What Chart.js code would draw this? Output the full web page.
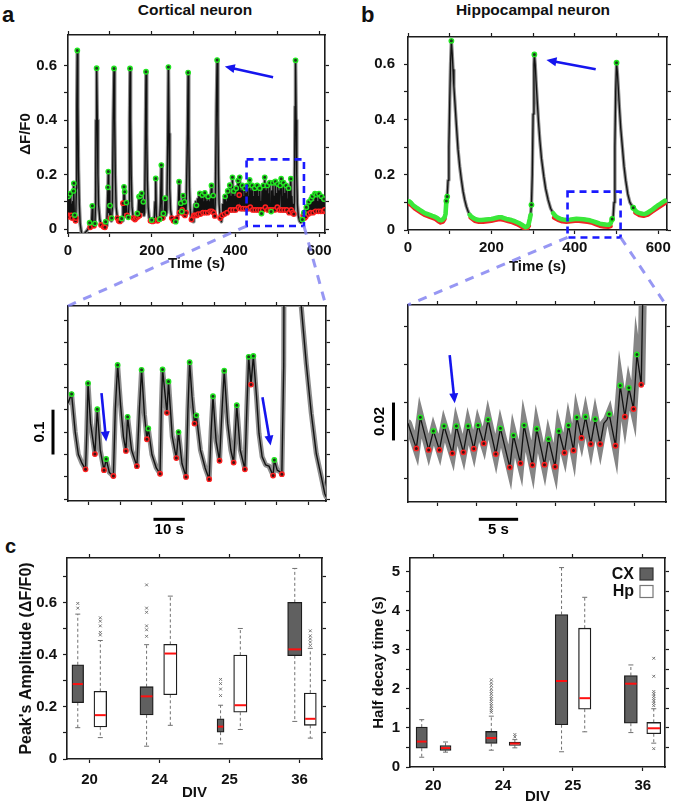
<!DOCTYPE html>
<html>
<head>
<meta charset="utf-8">
<title>Cortical vs hippocampal calcium traces</title>
<script src="https://cdn.jsdelivr.net/npm/chart.js@4.4.1/dist/chart.umd.min.js"></script>
<style>
  html, body { margin: 0; padding: 0; background: #fff; }
  body { position: relative; width: 675px; height: 806px; overflow: hidden; font-family: 'Liberation Sans', Arial, sans-serif; color: #111; }
  .txt { position: absolute; font-weight: bold; white-space: nowrap; }
  canvas { position: absolute; }
  #overlay { left: 0; top: 0; z-index: 5; pointer-events: none; }
</style>
</head>
<body>
<div class="txt" style="left:2px;top:4px;font-size:22px;line-height:22px">a</div>
<div class="txt" style="left:361px;top:4px;font-size:22px;line-height:22px">b</div>
<div class="txt" style="left:5px;top:536px;font-size:20px;line-height:20px">c</div>
<div class="txt" style="left:95px;width:200px;text-align:center;top:2px;font-size:15.5px;line-height:16px">Cortical neuron</div>
<div class="txt" style="left:433px;width:200px;text-align:center;top:2px;font-size:15.5px;line-height:16px">Hippocampal neuron</div>
<canvas id="overlay" width="675" height="806"></canvas>
<script>
// ---------- data: panel a (cortical neuron, time in s, dF/F0) ----------
const cortexTrace = [
  [0,0.07],[1,0.12],[2,0.05],[3,0.1],[4,0.045],[5,0.13],[6,0.06],[7,0.11],[8,0.05],[9,0.09],[10,0.04],[11,0.1],[12,0.05],[13,0.14],[14,0.168],[15,0.06],[16,0.051],[17,0.04],[18,0.03],[19,0.04],[20,0.15],
  [21,0.45],[22.2,0.656],[23.5,0.45],[25,0.22],[27,0.09],[29,0.02],[32,-0.012],[35,-0.022],[38,-0.018],[42,-0.012],[46,-0.004],[50,0.005],[51.7,0.023],[53,0.006],[56,0.01],[58.1,0.085],[59.5,0.015],[62,0.012],[64.4,0.02],
  [66,0.1],[67,0.4],[68.4,0.591],[70,0.4],[71.5,0.2],[73,0.09],[76,0.035],[79,0.015],[82,0.01],[85,0.008],[88.3,0.006],[89.9,0.027],[91,0.012],[93,0.03],[95.5,0.153],[96.3,0.211],[97.3,0.06],[98.5,0.14],[99.5,0.05],[100.3,0.086],[101.5,0.04],[103,0.03],[104.3,0.04],
  [106,0.08],[108,0.4],[109.9,0.59],[111.5,0.4],[113,0.2],[115,0.08],[118,0.04],[121,0.03],[124,0.028],[128.2,0.039],[129.5,0.03],[131.4,0.095],[132.5,0.05],[133.8,0.155],[134.6,0.06],[135.4,0.137],[136.5,0.06],[138,0.09],[139.4,0.097],[141,0.05],[144.2,0.043],
  [146,0.1],[147,0.4],[148.2,0.59],[149.5,0.4],[151,0.2],[153,0.08],[156,0.04],[160,0.035],[163,0.04],[165.8,0.057],[167,0.045],[169.7,0.119],[171,0.05],[173,0.122],[174,0.06],[176,0.131],[177.5,0.06],[180,0.1],[181.5,0.05],[183,0.06],
  [185,0.35],[186.4,0.578],[188,0.35],[189.5,0.18],[191.5,0.08],[194,0.04],[197,0.03],[200,0.033],[202,0.028],[204,0.04],[206,0.03],[208,0.1],[209.6,0.186],[211,0.05],[214,0.03],[217,0.035],[219.1,0.036],[221,0.1],[223,0.235],[224.5,0.06],[226,0.04],[228,0.057],[229.5,0.04],[231.9,0.113],[233.5,0.05],[236,0.06],
  [238.5,0.35],[239.9,0.595],[241.5,0.35],[243,0.15],[245,0.07],[248,0.04],[252,0.03],[257.4,0.027],[260,0.04],[263,0.05],[265.4,0.174],[266.5,0.06],[268,0.07],[269.4,0.095],[270.5,0.06],[271.8,0.064],[273,0.07],[275,0.123],[276.5,0.055],[278,0.1],[279.5,0.05],[282,0.06],
  [285.5,0.35],[287,0.575],[288.5,0.35],[290,0.15],[292,0.07],[295,0.035],[298.9,0.027],
  [300.5,0.05],[302,0.09],[303.5,0.05],[305,0.1],[306.9,0.087],[308,0.05],[309.5,0.11],[311,0.055],[312.5,0.12],[314,0.06],[314.9,0.131],[316.5,0.055],[318,0.11],[319.5,0.06],[321,0.125],[322.5,0.06],[324,0.1],[325.5,0.06],[326.8,0.133],[328,0.06],[329.5,0.11],[331,0.065],[332.5,0.1],[334,0.06],[334.8,0.119],[336.5,0.06],[338,0.1],[339.5,0.065],[341,0.12],[342.8,0.16],[344,0.065],[345.5,0.1],[346.8,0.123],[348,0.06],[349.5,0.07],[350.7,0.048],
  [352,0.1],[354.5,0.45],[356.3,0.621],[358,0.4],[359.5,0.2],[361,0.09],[363.5,0.04],[366.6,0.027],
  [368,0.05],[369.5,0.09],[371,0.05],[372.5,0.11],[374,0.055],[375.5,0.12],[377,0.06],[378.5,0.1],[380,0.06],[381.5,0.14],[383,0.065],[384.5,0.13],[386.5,0.161],[388,0.07],[389.5,0.12],[391,0.065],[392.9,0.19],[394.5,0.07],[396,0.14],[397.5,0.065],[399,0.12],[400.5,0.07],[402,0.15],[403.5,0.07],[404.8,0.13],[406.3,0.178],[407.5,0.08],[409,0.125],[410.3,0.19],[411.8,0.075],[413.5,0.14],[415,0.07],[416.5,0.16],[418,0.075],[419.5,0.12],[421,0.07],[422.5,0.15],[424,0.075],[425.5,0.13],[427,0.07],[428.5,0.16],[430,0.075],[431.5,0.12],[433,0.07],[434,0.18],[435.5,0.08],[437,0.14],[438.5,0.075],[440,0.16],[441.5,0.07],[443,0.12],[444.5,0.075],[446,0.15],[447.5,0.07],[449,0.14],[450.5,0.075],[452,0.16],[453.5,0.07],[455,0.12],[456.5,0.065],[458,0.15],[459.5,0.07],[461,0.1],[462.3,0.057],[463.5,0.14],[465,0.07],[466.5,0.16],[468,0.075],[470,0.19],[471.5,0.08],[473,0.14],[474.5,0.075],[476,0.16],[477.5,0.07],[479,0.13],[480.5,0.075],[482,0.17],[483.5,0.07],[485.3,0.064],[486.5,0.14],[488,0.07],[489.5,0.17],[491,0.075],[492.5,0.12],[494,0.07],[495.5,0.175],[497,0.075],[498.5,0.13],[500,0.08],[501.2,0.165],[502.5,0.075],[504,0.14],[505.5,0.07],[507,0.16],[509.3,0.185],[510.5,0.07],[512,0.12],[513.5,0.065],[515,0.17],[516.5,0.07],[518,0.13],[519.5,0.065],[521,0.16],[522.5,0.07],[524,0.11],[525.5,0.06],[527,0.15],[528.5,0.06],[530,0.13],[532.4,0.185],[533.5,0.07],[535,0.12],[536.5,0.06],[538,0.09],[539.5,0.055],
  [541,0.1],[542.5,0.45],[543.6,0.62],[545,0.4],[546.5,0.2],[548,0.09],[550,0.05],[553,0.03],[556,0.024],[558,0.027],[560,0.035],[562,0.05],[563.5,0.06],[565,0.04],[566.5,0.07],[568,0.045],[569.5,0.08],[571,0.05],[572.5,0.09],[574,0.055],[575.5,0.1],[577,0.06],[578,0.1],[579.5,0.06],[581,0.11],[582.5,0.065],[584,0.12],[585.5,0.06],[587,0.1],[588.5,0.065],[590,0.13],[591.5,0.065],[593.9,0.126],[595,0.07],[596.5,0.1],[598,0.065],[599.5,0.13],[601,0.07],[602.5,0.11],[604,0.065],[605.5,0.12],[607,0.07],[608.5,0.1],[610,0.065],[611.5,0.11],[613,0.07],[614,0.09]
];
const cortexPeaks = [
  [1,0.12],[5,0.13],[13,0.14],[14,0.168],[16,0.051],[22.2,0.656],[51.7,0.023],[58.1,0.085],[64.4,0.02],[68.4,0.591],[89.9,0.027],[95.5,0.153],[96.3,0.211],[100.3,0.086],[104.3,0.04],[109.9,0.59],
  [128.2,0.039],[133.8,0.155],[135.4,0.137],[139.4,0.097],[144.2,0.043],[148.2,0.59],[165.8,0.057],[169.7,0.119],[173,0.122],[176,0.131],[180,0.1],[186.4,0.578],[200,0.033],[209.6,0.186],[219.1,0.036],[223,0.235],[228,0.057],[231.9,0.113],[239.9,0.595],
  [257.4,0.027],[265.4,0.174],[269.4,0.095],[271.8,0.064],[275,0.123],[278,0.1],[287,0.575],[306.9,0.087],[314.9,0.131],[321,0.125],[326.8,0.133],[334.8,0.119],[342.8,0.16],[346.8,0.123],[356.3,0.621],
  [375.5,0.12],[381.5,0.14],[386.5,0.161],[392.9,0.19],[396,0.14],[402,0.15],[406.3,0.178],[410.3,0.19],[416.5,0.16],[422.5,0.15],[428.5,0.16],[434,0.18],[440,0.16],[446,0.15],[452,0.16],[458,0.15],[462.3,0.057],[466.5,0.16],[470,0.19],[476,0.16],[482,0.17],[485.3,0.064],[489.5,0.17],[495.5,0.175],[501.2,0.165],[507,0.16],[509.3,0.185],[515,0.17],[521,0.16],[527,0.15],[532.4,0.185],[543.6,0.62],
  [560,0.035],[563.5,0.06],[569.5,0.08],[575.5,0.1],[581,0.11],[584,0.12],[590,0.13],[593.9,0.126],[599.5,0.13],[605.5,0.12],[611.5,0.11]
];
const cortexTroughs = [
  [2,0.05],[4,0.045],[8,0.05],[10,0.04],[17,0.04],[18,0.03],[19,0.04],[53,0.006],[62,0.012],[79,0.015],[85,0.008],[88.3,0.006],[101.5,0.04],[118,0.04],[121,0.03],[124,0.028],[131.4,0.095],[141,0.05],[156,0.04],[160,0.035],[163,0.04],[167,0.045],[171,0.05],
  [197,0.03],[202,0.028],[206,0.03],[214,0.03],[217,0.035],[226,0.04],[248,0.04],[252,0.03],[260,0.04],[266.5,0.06],[273,0.07],[276.5,0.055],[279.5,0.05],[282,0.06],[295,0.035],
  [300.5,0.05],[303.5,0.05],[308,0.05],[311,0.055],[316.5,0.055],[322.5,0.06],[328,0.06],[334,0.06],[339.5,0.065],[344,0.065],[348,0.06],[350.7,0.048],[363.5,0.04],
  [368,0.05],[374,0.055],[380,0.06],[388,0.07],[394.5,0.07],[400.5,0.07],[407.5,0.08],[409,0.125],[411.8,0.075],[418,0.075],[424,0.075],[430,0.075],[435.5,0.08],[441.5,0.07],[447.5,0.07],[453.5,0.07],[459.5,0.07],[465,0.07],[471.5,0.08],[477.5,0.07],[483.5,0.07],[488,0.07],[494,0.07],[500,0.08],[505.5,0.07],[510.5,0.07],[516.5,0.07],[522.5,0.07],[528.5,0.06],[533.5,0.07],[536.5,0.06],[539.5,0.055],
  [562,0.05],[565,0.04],[568,0.045],[574,0.055],[579.5,0.06],[585.5,0.06],[591.5,0.065],[598,0.065],[604,0.065],[610,0.065],[613,0.07]
];
const cortexZoomBox = [426.6, 563.7, 0.011, 0.256];   // t from, t to, dF/F0 low, high
const cortexArrow = [490, 0.558, 374.6, 0.597];

// ---------- data: panel b (hippocampal neuron) ----------
const hippoTrace = [
  [0,0.104],[4,0.103],[8,0.097],[12,0.09],[16,0.085],[20,0.081],[24,0.077],[28,0.073],[34,0.067],[40,0.061],[46,0.058],[52,0.055],[58,0.051],[64,0.048],[70,0.043],[76,0.036],[80,0.035],[84,0.039],[88,0.047],[90,0.058],[92,0.105],[94,0.121],
  [96,0.18],[98,0.3],[100,0.46],[102,0.6],[104,0.685],[106,0.64],[108,0.58],[110,0.52],[112,0.473],[116,0.38],[120,0.291],[124,0.23],[128,0.182],[132,0.14],[136,0.109],[140,0.085],[144,0.068],[148,0.055],
  [152,0.048],[158,0.042],[164,0.038],[170,0.036],[176,0.036],[182,0.037],[188,0.038],[194,0.039],[200,0.04],[206,0.042],[212,0.044],[218,0.046],[224,0.046],[230,0.043],[236,0.04],[242,0.038],[248,0.036],[254,0.033],[260,0.029],[266,0.025],[272,0.02],[278,0.014],[282,0.01],[286,0.013],[289,0.02],[292,0.04],[294,0.055],[296,0.091],
  [298,0.2],[300,0.42],[302,0.6],[303,0.636],[305,0.6],[307,0.54],[309.6,0.473],[313,0.39],[316,0.327],[320,0.26],[325.6,0.194],[330,0.15],[336,0.109],[342,0.078],[348,0.061],
  [354,0.05],[360,0.044],[366,0.04],[372,0.038],[380,0.036],[388,0.037],[396,0.039],[404,0.041],[412,0.04],[420,0.039],[428,0.037],[436,0.035],[444,0.031],[452,0.027],[460,0.023],[468,0.021],[476,0.019],[482,0.019],[486,0.024],[489.6,0.04],[492,0.05],
  [494,0.1],[496,0.3],[498,0.5],[500,0.606],[502,0.57],[504,0.52],[507,0.44],[510,0.37],[514,0.3],[518,0.23],[522,0.18],[527,0.13],[532,0.1],[537,0.087],[540,0.081],
  [545,0.07],[550,0.064],[556,0.061],[562,0.059],[568,0.058],[574,0.062],[580,0.068],[586,0.074],[592,0.081],[598,0.088],[604,0.094],[610,0.1],[616,0.106]
];
const hippoPeaks = [[104,0.685],[303,0.636],[500,0.606],[92,0.105],[94,0.121],[296,0.091],[540,0.081],[489.6,0.04]];
const hippoBaselineSpans = [[0, 92], [148, 294], [348, 490], [540, 621]];
const hippoTroughBand = [
  [0,0.097],[8,0.09],[16,0.078],[24,0.07],[32,0.062],[40,0.054],[48,0.05],[56,0.045],[64,0.041],[72,0.032],[78,0.027],[84,0.03],[88,0.04], null,
  [150,0.045],[160,0.033],[170,0.029],[180,0.029],[190,0.031],[200,0.033],[210,0.036],[220,0.039],[230,0.036],[240,0.032],[250,0.028],[260,0.022],[270,0.014],[278,0.007],[282,0.003],[286,0.006],[290,0.015], null,
  [350,0.045],[360,0.036],[370,0.031],[380,0.029],[390,0.031],[400,0.033],[410,0.033],[420,0.031],[430,0.029],[440,0.027],[450,0.021],[460,0.015],[470,0.012],[480,0.011],[486,0.014], null,
  [545,0.063],[555,0.054],[565,0.051],[575,0.055],[585,0.066],[595,0.076],[605,0.086],[616,0.097]
];
const hippoZoomBox = [382.5, 509.7, -0.027, 0.139];
const hippoArrow = [450, 0.582, 332, 0.616];

// ---------- data: enlarged stretches (relative time s, dF/F0 offset) ----------
const cortexZoomTrace = [
  [0,0.215],[1.15,0.235],[2.3,0.15],[3.3,0.1],[4.5,0.08],[5.6,0.067],[6.0,0.15],[6.4,0.259],[7.2,0.17],[8.6,0.101],[9.35,0.201],[10.3,0.11],[11.5,0.065],[12.2,0.09],[13.2,0.06],[14.5,0.052],[15.1,0.2],[15.85,0.3],[16.8,0.21],[17.7,0.14],[18.5,0.108],[19.04,0.184],[20.3,0.11],[22.0,0.074],
  [22.8,0.2],[23.5,0.289],[24.4,0.19],[25.2,0.134],[25.65,0.158],[26.8,0.1],[28.2,0.07],[29.4,0.057],[29.8,0.2],[30.2,0.29],[31.6,0.193],[32.1,0.263],[33.3,0.14],[34.6,0.092],[35.3,0.15],[36.4,0.08],[37.7,0.05],[38.3,0.2],[38.85,0.306],[39.6,0.23],[40.4,0.169],[41.0,0.1875],[42.3,0.11],[43.8,0.07],[45.1,0.045],
  [45.7,0.15],[46.3,0.23],[47.3,0.13],[48.4,0.086],[49.2,0.2],[49.9,0.287],[51.0,0.17],[52.0,0.11],[52.9,0.082],[53.9,0.21],[55.0,0.11],[56.5,0.067],[57.1,0.2],[57.7,0.318],[58.45,0.256],[59.2,0.32],[60.2,0.23],[61.0,0.147],[62.0,0.095],[63.1,0.077],[64.2,0.074],[65.5,0.053],[65.9,0.088],[66.8,0.065],[67.6,0.062],[68.3,0.056],
  [68.9,0.3],[69.1,0.75],[74.3,0.75],[74.5,0.43],[76.1,0.303],[77.7,0.192],[79.3,0.102],[80.9,0.05],[82.0,0.013],[82.4,0.006]
];
const cortexZoomPeaks = [[1.15,0.235],[6.4,0.259],[9.35,0.201],[12.2,0.09],[15.85,0.3],[19.04,0.184],[23.5,0.289],[25.65,0.158],[30.2,0.29],[32.1,0.263],[35.3,0.15],[38.85,0.306],[41.0,0.1875],[46.3,0.23],[49.9,0.287],[53.9,0.21],[57.7,0.318],[59.2,0.32],[65.9,0.088]];
const cortexZoomTroughs = [[5.6,0.067],[8.6,0.101],[11.5,0.065],[14.5,0.052],[18.5,0.108],[22.0,0.074],[25.2,0.134],[29.4,0.057],[31.6,0.193],[34.6,0.092],[37.7,0.05],[40.4,0.169],[45.1,0.045],[48.4,0.086],[52.9,0.082],[56.5,0.067],[58.45,0.256],[65.5,0.053],[68.3,0.056]];
const cortexZoomArrows = [[10.7,0.237,12.2,0.129],[62.1,0.228,64.7,0.12]];

const hippoZoomTrace = [
  [0,0.029],[1.06,0.0158],[1.57,0.0322],[2.63,0.015],[3.23,0.025],[3.99,0.015],[4.58,0.0276],[5.64,0.0132],[6.15,0.0276],[7.04,0.0137],[7.64,0.0276],[8.36,0.0156],[8.91,0.028],[9.63,0.0184],[10.18,0.031],[11.16,0.0128],[11.75,0.0264],[12.94,0.0058],[13.41,0.0227],[14.3,0.0079],[14.76,0.028],[15.82,0.007],[16.37,0.0262],[17.35,0.0072],[17.86,0.0207],[18.7,0.0061],
  [19.17,0.025],[19.89,0.0135],[20.4,0.028],[21.04,0.0147],[21.46,0.0322],[22.06,0.0213],[22.57,0.0325],[23.24,0.0181],[23.8,0.0313],[24.43,0.0181],[24.9,0.029],[25.3,0.031],[25.58,0.0339],[26.38,0.0172],[26.98,0.049],[27.57,0.0325],[28.08,0.0478],[28.67,0.0366],[29.1,0.0654],[29.65,0.0494],[29.95,0.12],[30.2,0.2]
];
const hippoZoomPeaks = [[1.57,0.0322],[3.23,0.025],[4.58,0.0276],[6.15,0.0276],[7.64,0.0276],[8.91,0.028],[10.18,0.031],[11.75,0.0264],[13.41,0.0227],[14.76,0.028],[16.37,0.0262],[17.86,0.0207],[19.17,0.025],[20.4,0.028],[21.46,0.0322],[22.57,0.0325],[23.8,0.0313],[25.58,0.0339],[26.98,0.049],[28.08,0.0478],[29.1,0.0654]];
const hippoZoomTroughs = [[1.06,0.0158],[2.63,0.015],[3.99,0.015],[5.64,0.0132],[7.04,0.0137],[8.36,0.0156],[9.63,0.0184],[11.16,0.0128],[12.94,0.0058],[14.3,0.0079],[15.82,0.007],[17.35,0.0072],[18.7,0.0061],[19.89,0.0135],[21.04,0.0147],[22.06,0.0213],[23.24,0.0181],[24.43,0.0181],[26.38,0.0172],[27.57,0.0325],[28.67,0.0366],[29.65,0.0494]];
const hippoZoomArrows = [[5.3,0.065,5.94,0.0396]];

// ---------- ticks ----------
const timeTicks = [0, 100, 200, 300, 400, 500, 600];
const dffTicks = [0, 0.1, 0.2, 0.3, 0.4, 0.5, 0.6];
const cortexZoomTimeTicks = [6.7, 16.7, 26.7, 36.7, 46.7, 56.7, 66.7, 76.7];
const cortexZoomLevelTicks = [0, 0.05, 0.1, 0.15, 0.2, 0.25, 0.3, 0.35, 0.4];
const hippoZoomTimeTicks = [3.75, 8.75, 13.75, 18.75, 23.75, 28.75];
const hippoZoomLevelTicks = [0, 0.02, 0.04, 0.06, 0.08];

// ---------- data: panel c box plots [whisker low, q1, median, q3, whisker high] ----------
const divLabels = ['20', '24', '25', '36'];
const ampCX = [[0.120,0.216,0.287,0.361,0.555],[0.049,0.169,0.240,0.277,0.438],[0.058,0.103,0.124,0.154,0.206],[0.144,0.396,0.420,0.600,0.730]];
const ampHp = [[0.082,0.123,0.168,0.259,0.454],[0.129,0.246,0.404,0.439,0.624],[0.113,0.179,0.206,0.398,0.500],[0.080,0.129,0.154,0.253,0.424]];
const ampCXOut = [[0.596,0.578],[0.667,0.578,0.562,0.51,0.495,0.47],[0.305,0.289,0.268,0.243],[]];
const ampHpOut = [[0.541,0.528,0.51,0.485,0.475],[],[],[0.491,0.472,0.46,0.448,0.435]];
const decayCX = [[0.25,0.48,0.65,1.02,1.21],[0.43,0.60,0.74,0.91,1.30],[0.39,1.08,2.20,3.90,5.10],[0.88,1.12,2.13,2.34,2.61]];
const decayHp = [[0.38,0.426,0.485,0.545,0.64],[0.49,0.55,0.60,0.64,0.70],[0.90,1.48,1.76,3.55,4.34],[0.61,0.85,0.99,1.14,1.49]];
const decayCXOut = [[],[2.23,2.15,2.08,2.0,1.93,1.87,1.8,1.74,1.68,1.62,1.56,1.5,1.45,1.4],[],[]];
const decayHpOut = [[],[0.83,0.77],[],[2.78,2.32,1.93,1.87,1.81,1.75,1.69,1.63,1.57,0.47]];
const ampTicks = [0, 0.1, 0.2, 0.3, 0.4, 0.5, 0.6, 0.7];
const decayTicks = [0, 0.5, 1, 1.5, 2, 2.5, 3, 3.5, 4, 4.5, 5];

// ---------- layout (page px) ----------
const INK = '#1c1c1c';
const FONT = "'Liberation Sans', Arial, Helvetica, sans-serif";
const boxShift = {
  amp: { cx: [-0.169, -0.186, -0.129, -0.069], hp: [0.153, 0.153, 0.153, 0.153] },
  decay: { cx: [-0.166, -0.169, -0.163, -0.17], hp: [0.175, 0.168, 0.169, 0.158] }
};
const boxWidth = {
  amp: { cx: [11.7, 13.3, 7, 14.3], hp: [12.7, 13.3, 13.3, 12] },
  decay: { cx: [11.3, 11.6, 12.7, 13], hp: [11, 11.4, 12.4, 14] }
};

Chart.defaults.font.family = FONT;
Chart.defaults.font.size = 15;
Chart.defaults.font.weight = 'bold';
Chart.defaults.color = '#111';
Chart.defaults.animation = false;

const xy = pts => pts.map(p => p ? { x: p[0], y: p[1] } : { x: NaN, y: null });

function mount(plot, m) {
  const cv = document.createElement('canvas');
  cv.width = plot.r - plot.l + m.l + m.r;
  cv.height = plot.b - plot.t + m.t + m.b;
  cv.style.left = (plot.l - m.l) + 'px';
  cv.style.top = (plot.t - m.t) + 'px';
  cv.style.width = cv.width + 'px';
  cv.style.height = cv.height + 'px';
  document.body.insertBefore(cv, document.getElementById('overlay'));
  return cv;
}

// axis box sizes are pinned so the plot areas land where the figure has them;
// the margins are kept wider than the label overhang Chart.js reserves.
function axis(position, min, max, ticks, size, more) {
  more = more || {};
  const horiz = position === 'top' || position === 'bottom';
  const o = {
    type: 'linear', position, min, max, offset: false,
    border: { display: true, color: INK, width: 1.6 },
    grid: { drawOnChartArea: false, drawTicks: true, tickLength: 4, tickColor: INK, tickWidth: 1.2, offset: false },
    ticks: Object.assign({ display: false, autoSkip: false, maxRotation: 0, minRotation: 0 }, more.ticks || {}),
    title: more.title || { display: false },
    afterBuildTicks: s => { s.ticks = ticks.map(v => ({ value: v })); },
    afterFit: s => { if (horiz) s.height = size; else s.width = size; }
  };
  if (more.stacked !== undefined) o.stacked = more.stacked;
  return o;
}

function build(cv, datasets, scales, plugins) {
  return new Chart(cv, {
    type: 'line',
    data: { datasets },
    options: {
      responsive: false, maintainAspectRatio: false, animation: false, events: [],
      layout: { padding: 0, autoPadding: false },
      plugins: { legend: { display: false }, tooltip: { enabled: false } },
      scales
    },
    plugins: plugins || []
  });
}

function marks(pts, color, core, r) {
  return { data: xy(pts), showLine: false, pointRadius: r, pointBorderWidth: 1.4, pointBorderColor: color, pointBackgroundColor: core, order: 1 };
}
function line(pts, color, w, order) {
  return { data: xy(pts), borderColor: color, borderWidth: w, pointRadius: 0, borderJoinStyle: 'round', borderCapStyle: 'round', tension: 0, order };
}

function decor(draw) {
  return { id: 'decor', afterDatasetsDraw(chart) {
    const c = chart.ctx; c.save(); draw(c, chart.scales.x, chart.scales.y, chart.chartArea); c.restore();
  } };
}
function arrow(c, sx, sy, a) {
  const x0 = sx.getPixelForValue(a[0]), y0 = sy.getPixelForValue(a[1]);
  const x1 = sx.getPixelForValue(a[2]), y1 = sy.getPixelForValue(a[3]);
  const ang = Math.atan2(y1 - y0, x1 - x0), L = 10, W = 4.5;
  const bx = x1 - L * Math.cos(ang), by = y1 - L * Math.sin(ang);
  c.strokeStyle = c.fillStyle = '#1515ee'; c.lineWidth = 2.6; c.setLineDash([]);
  c.beginPath(); c.moveTo(x0, y0); c.lineTo(bx + 2 * Math.cos(ang), by + 2 * Math.sin(ang)); c.stroke();
  c.beginPath(); c.moveTo(x1, y1);
  c.lineTo(bx + W * Math.sin(ang), by - W * Math.cos(ang));
  c.lineTo(bx - W * Math.sin(ang), by + W * Math.cos(ang));
  c.closePath(); c.fill();
}
function zoomRect(c, sx, sy, b) {
  c.strokeStyle = '#1a1aff'; c.lineWidth = 2.6; c.setLineDash([7, 5]);
  const x0 = sx.getPixelForValue(b[0]), x1 = sx.getPixelForValue(b[1]);
  const y0 = sy.getPixelForValue(b[3]), y1 = sy.getPixelForValue(b[2]);
  c.strokeRect(x0, y0, x1 - x0, y1 - y0);
}
function scaleBars(c, sx, sy, area, bar) {
  c.fillStyle = '#000';
  const y0 = sy.getPixelForValue(bar.v[1]), y1 = sy.getPixelForValue(bar.v[0]);
  c.fillRect(area.left - bar.dx - 1.5, y0, 3, y1 - y0);
  const x0 = sx.getPixelForValue(bar.t[0]), x1 = sx.getPixelForValue(bar.t[1]);
  c.fillRect(x0, area.bottom + bar.dy - 1.5, x1 - x0, 3);
  c.font = 'bold 15px ' + FONT;
  c.textAlign = 'center'; c.textBaseline = 'middle';
  c.fillText(bar.tText, (x0 + x1) / 2, area.bottom + bar.dy + 11);
  c.translate(area.left - bar.lx, (y0 + y1) / 2); c.rotate(-Math.PI / 2);
  c.fillText(bar.vText, 0, 0);
}

const dffLabel = v => (Math.round(v * 10) % 2 ? '' : (v === 0 ? '0' : v.toFixed(1)));
const timeLabel = v => (v % 200 ? '' : String(v));
const GREEN = '#22e622', GREEN_CORE = '#1b3a1b', RED = '#ff2020', RED_CORE = '#3f1212';

// ---------- panel a ----------
const plotA = { l: 68, t: 35, r: 325, b: 233 };
const mA = { l: 66, t: 20, r: 16, b: 41 };
const cvA = mount(plotA, mA);
const chartA = build(cvA, [
  marks(cortexPeaks, GREEN, GREEN_CORE, 2.2),
  marks(cortexTroughs, RED, RED_CORE, 2.2),
  line(cortexTrace, '#111', 1.4, 3),
  line(cortexTrace, '#8c8c8c', 3.6, 4)
], {
  x: axis('bottom', 0, 614, timeTicks, mA.b, { ticks: { display: true, padding: 5, callback: timeLabel },
    title: { display: true, text: 'Time (s)', padding: { top: 0, bottom: 1 } } }),
  x2: axis('top', 0, 614, timeTicks, mA.t),
  y: axis('left', -0.0147, 0.713, dffTicks, mA.l, { ticks: { display: true, padding: 7, callback: dffLabel },
    title: { display: true, text: 'ΔF/F0', padding: { top: 15, bottom: 0 } } }),
  y2: axis('right', -0.0147, 0.713, dffTicks, mA.r)
}, [decor((c, sx, sy) => { zoomRect(c, sx, sy, cortexZoomBox); arrow(c, sx, sy, cortexArrow); })]);

// ---------- panel b ----------
const hippoBand = [];
hippoBaselineSpans.forEach(s => {
  hippoTrace.forEach(p => { if (p[0] >= s[0] && p[0] <= s[1]) hippoBand.push(p); });
  hippoBand.push(null);
});
const plotB = { l: 408, t: 37, r: 667, b: 230 };
const mB = { l: 50, t: 22, r: 14, b: 46 };
const cvB = mount(plotB, mB);
const chartB = build(cvB, [
  marks(hippoPeaks, GREEN, GREEN_CORE, 2.2),
  line(hippoBand, '#3ae83a', 4.6, 2),
  line(hippoTroughBand, '#f02424', 4.2, 2.5),
  line(hippoTrace, '#111', 1.3, 3),
  line(hippoTrace, '#8c8c8c', 3.4, 4)
], {
  x: axis('bottom', 0, 621, timeTicks, mB.b, { ticks: { display: true, padding: 5, callback: timeLabel },
    title: { display: true, text: 'Time (s)', padding: { top: 0, bottom: 0 } } }),
  x2: axis('top', 0, 621, timeTicks, mB.t),
  y: axis('left', 0, 0.699, dffTicks, mB.l, { ticks: { display: true, padding: 9, callback: dffLabel } }),
  y2: axis('right', 0, 0.699, dffTicks, mB.r)
}, [decor((c, sx, sy) => { zoomRect(c, sx, sy, hippoZoomBox); arrow(c, sx, sy, hippoArrow); })]);

// ---------- enlarged cortical stretch ----------
const plotAz = { l: 68, t: 306, r: 326, b: 501 };
const mAz = { l: 45, t: 10, r: 10, b: 42 };
const cvAz = mount(plotAz, mAz);
const chartAz = build(cvAz, [
  marks(cortexZoomPeaks, GREEN, GREEN_CORE, 2.2),
  marks(cortexZoomTroughs, RED, RED_CORE, 2.2),
  line(cortexZoomTrace, '#111', 1.4, 3),
  line(cortexZoomTrace, '#8e8e8e', 5, 4)
], {
  x: axis('bottom', 0, 82.4, cortexZoomTimeTicks, mAz.b),
  x2: axis('top', 0, 82.4, cortexZoomTimeTicks, mAz.t),
  y: axis('left', -0.0038, 0.4315, cortexZoomLevelTicks, mAz.l),
  y2: axis('right', -0.0038, 0.4315, cortexZoomLevelTicks, mAz.r)
}, [decor((c, sx, sy, area) => {
  cortexZoomArrows.forEach(a => arrow(c, sx, sy, a));
  scaleBars(c, sx, sy, area, { t: [27.3, 37.3], v: [0.1, 0.2], dx: 15, dy: 18.3, lx: 28, tText: '10 s', vText: '0.1' });
})]);

// ---------- enlarged hippocampal stretch ----------
const plotBz = { l: 408, t: 305, r: 666, b: 502 };
const mBz = { l: 45, t: 10, r: 9, b: 42 };
const cvBz = mount(plotBz, mBz);
const chartBz = build(cvBz, [
  marks(hippoZoomPeaks, GREEN, GREEN_CORE, 2.2),
  marks(hippoZoomTroughs, RED, RED_CORE, 2.2),
  line(hippoZoomTrace, '#111', 1.3, 3),
  { ...line(hippoZoomTrace, '#858585', 8, 4), borderJoinStyle: 'miter' }
], {
  x: axis('bottom', 0, 32.8, hippoZoomTimeTicks, mBz.b),
  x2: axis('top', 0, 32.8, hippoZoomTimeTicks, mBz.t),
  y: axis('left', -0.0125, 0.0915, hippoZoomLevelTicks, mBz.l),
  y2: axis('right', -0.0125, 0.0915, hippoZoomLevelTicks, mBz.r)
}, [decor((c, sx, sy, area) => {
  hippoZoomArrows.forEach(a => arrow(c, sx, sy, a));
  scaleBars(c, sx, sy, area, { t: [9, 14], v: [0.02, 0.04], dx: 14.5, dy: 17.3, lx: 28, tText: '5 s', vText: '0.02' });
})]);

// ---------- box plots ----------
function boxSets(stats, outs, shift, widths, fill, label) {
  const sets = [];
  stats.forEach((s, i) => {
    sets.push({ type: 'bar', label: i === 0 ? label : undefined, stack: 'box',
      data: [{ x: i + shift[i], y: [s[1], s[3]] }], backgroundColor: fill, borderColor: '#1e1e1e',
      borderWidth: 1.3, borderSkipped: false, barThickness: widths[i], order: 3 });
  });
  const wh = [], caps = [], out = [];
  stats.forEach((s, i) => {
    const x = i + shift[i];
    wh.push({ x, y: s[3] }, { x, y: s[4] }, { x, y: null }, { x, y: s[1] }, { x, y: s[0] }, { x, y: null });
    caps.push({ x, y: s[0] }, { x, y: s[4] });
    outs[i].forEach(v => out.push({ x, y: v }));
  });
  sets.push({ data: wh, borderColor: '#707070', borderWidth: 1, borderDash: [3, 2.5], pointRadius: 0, spanGaps: false, order: 4 });
  sets.push({ data: caps, showLine: false, pointStyle: 'line', pointRadius: 2.5, pointBorderColor: '#707070', pointBorderWidth: 1, order: 4 });
  sets.push({ data: stats.map((s, i) => ({ x: i + shift[i], y: s[2] })), showLine: false, pointStyle: 'line',
    pointRadius: widths.map(w => w / 2 - 0.8), pointBorderColor: '#ff1010', pointBorderWidth: 2, order: 1 });
  sets.push({ data: out, showLine: false, pointStyle: 'crossRot', pointRadius: 2, pointBorderColor: '#747474', pointBorderWidth: 1, order: 1 });
  return sets;
}
const CX_FILL = '#606060', HP_FILL = '#ffffff';
const divTicks = [0, 1, 2, 3];
const divLabel = v => divLabels[v];

const legendPlugin = { id: 'boxLegend', afterDatasetsDraw(chart) {
  const c = chart.ctx, a = chart.chartArea;
  const items = chart.data.datasets.filter(d => d.label);
  c.save();
  c.font = 'bold 16px ' + FONT;
  c.textAlign = 'right'; c.textBaseline = 'middle';
  items.forEach((d, i) => {
    const cy = a.top + 16 + i * 17.5, bx = a.right - 25;
    c.fillStyle = d.backgroundColor; c.fillRect(bx, cy - 6, 13, 12);
    c.strokeStyle = i === 0 ? '#333' : '#777'; c.lineWidth = 1.2; c.strokeRect(bx, cy - 6, 13, 12);
    c.fillStyle = '#111'; c.fillText(d.label, bx - 6, cy + 0.5);
  });
  c.restore();
} };

const plotC = { l: 67, t: 558, r: 322, b: 759 };
const mC = { l: 62, t: 20, r: 10, b: 47 };
const cvC = mount(plotC, mC);
const chartC = build(cvC, [
  ...boxSets(ampCX, ampCXOut, boxShift.amp.cx, boxWidth.amp.cx, CX_FILL, 'CX'),
  ...boxSets(ampHp, ampHpOut, boxShift.amp.hp, boxWidth.amp.hp, HP_FILL, 'Hp')
], {
  x: axis('bottom', -0.323, 3.32, divTicks, mC.b, { ticks: { display: true, padding: 8, callback: divLabel },
    title: { display: true, text: 'DIV', padding: { top: 0, bottom: 4.5 } } }),
  x2: axis('top', -0.323, 3.32, divTicks, mC.t),
  y: axis('left', 0, 0.77, ampTicks, mC.l, { stacked: false, ticks: { display: true, padding: 6, callback: dffLabel },
    title: { display: true, text: "Peak's Amplitude (ΔF/F0)", font: { size: 16 }, padding: { top: 12, bottom: 0 } } }),
  y2: axis('right', 0, 0.77, ampTicks.slice(1), mC.r)
});

const plotD = { l: 410, t: 558, r: 665, b: 767 };
const mD = { l: 42, t: 20, r: 10, b: 39 };
const cvD = mount(plotD, mD);
const chartD = build(cvD, [
  ...boxSets(decayCX, decayCXOut, boxShift.decay.cx, boxWidth.decay.cx, CX_FILL, 'CX'),
  ...boxSets(decayHp, decayHpOut, boxShift.decay.hp, boxWidth.decay.hp, HP_FILL, 'Hp')
], {
  x: axis('bottom', -0.334, 3.319, divTicks, mD.b, { ticks: { display: true, padding: 6, callback: divLabel },
    title: { display: true, text: 'DIV', padding: { top: 0, bottom: 0 } } }),
  x2: axis('top', -0.334, 3.319, divTicks, mD.t),
  y: axis('left', 0, 5.345, decayTicks, mD.l, { stacked: false, ticks: { display: true, padding: 6, callback: v => (Number.isInteger(v) ? String(v) : '') },
    title: { display: true, text: 'Half decay time (s)', padding: { top: 2, bottom: 0 } } }),
  y2: axis('right', 0, 5.345, decayTicks.slice(1), mD.r)
}, [legendPlugin]);

// ---------- dashed guides from the boxed stretch to its enlargement ----------
const ov = document.getElementById('overlay').getContext('2d');
ov.strokeStyle = 'rgba(125,125,240,0.8)'; ov.lineWidth = 3; ov.setLineDash([9, 8]);
function connect(main, mainCv, box, inset, insetCv) {
  const ml = parseFloat(mainCv.style.left), mt = parseFloat(mainCv.style.top);
  const il = parseFloat(insetCv.style.left), it = parseFloat(insetCv.style.top);
  const yb = mt + main.scales.y.getPixelForValue(box[2]);
  const xa = ml + main.scales.x.getPixelForValue(box[0]);
  const xb = ml + main.scales.x.getPixelForValue(box[1]);
  const ca = inset.chartArea;
  ov.beginPath(); ov.moveTo(xa, yb); ov.lineTo(il + ca.left, it + ca.top); ov.stroke();
  ov.beginPath(); ov.moveTo(xb, yb); ov.lineTo(il + ca.right, it + ca.top); ov.stroke();
}
connect(chartA, cvA, cortexZoomBox, chartAz, cvAz);
connect(chartB, cvB, hippoZoomBox, chartBz, cvBz);
</script>
</body>
</html>
